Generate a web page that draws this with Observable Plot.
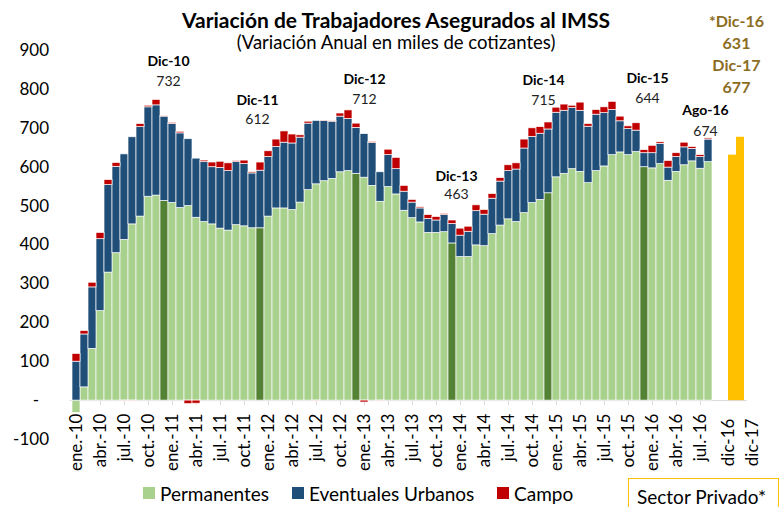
<!DOCTYPE html>
<html><head><meta charset="utf-8">
<script src="https://cdn.jsdelivr.net/npm/d3@7"></script>
<script src="https://cdn.jsdelivr.net/npm/@observablehq/plot@0.6"></script>
<style>body{margin:0;background:#fff} svg{font-family:Lato, "Open Sans", sans-serif}</style>
</head><body><div id="chart"></div>
<script>
// ---- categories ----
const monthAbbr = ["ene.","feb.","mar.","abr.","may.","jun.","jul.","ago.","sep.","oct.","nov.","dic."];
const yearSuffix = ["10","11","12","13","14","15","16"];
const months = yearSuffix.flatMap(y => monthAbbr.map(m => `${m}-${y}`)).slice(0, 80); // ene.-10 .. ago.-16
const gapCats = ["gap-1", "gap-2"];
const projCats = ["dic-16", "dic-17"];
const tickLabels = ["ene.-10","abr.-10","jul.-10","oct.-10","ene.-11","abr.-11","jul.-11","oct.-11",
  "ene.-12","abr.-12","jul.-12","oct.-12","ene.-13","abr.-13","jul.-13","oct.-13",
  "ene.-14","abr.-14","jul.-14","oct.-14","ene.-15","abr.-15","jul.-15","oct.-15",
  "ene.-16","abr.-16","jul.-16"];
const yTicks = [-100,0,100,200,300,400,500,600,700,800,900];

// ---- series (miles de cotizantes) ----
const seriesNames = ["Permanentes", "Eventuales Urbanos", "Campo"];
const permanentes = [-32,34,133,230,329,379,413,453,473,524,527,513,
  508,495,500,470,459,453,442,437,451,448,443,443,
  473,494,494,490,509,541,556,564,570,587,590,583,
  573,552,511,549,530,488,469,458,431,431,433,404,
  369,369,399,397,428,450,466,459,482,508,516,533,
  574,583,595,588,559,590,602,631,638,631,639,600,
  597,608,565,588,605,615,596,613];
const eventuales = [100,136,158,185,225,222,220,224,230,230,232,217,
  203,192,172,152,154,147,156,153,162,160,141,148,
  153,158,169,171,167,171,163,155,147,143,134,118,
  112,110,76,82,65,49,40,36,36,32,44,50,
  55,65,88,81,91,113,124,135,166,170,170,164,
  166,162,157,157,145,145,137,116,80,67,55,36,
  39,52,34,38,46,32,30,58];
const campo = [20,9,12,16,13,10,-2,-2,8,4,14,2,
  3,4,-9,-8,4,12,16,20,3,9,3,21,
  15,19,29,23,6,5,-2,1,2,8,22,11,
  -5,3,-2,14,29,15,7,3,10,9,3,9,
  18,13,15,12,12,9,15,16,23,22,17,18,
  13,16,6,21,7,12,15,21,12,7,19,8,
  19,4,17,10,12,5,5,3];
const proyeccion = [631, 677];
const projLabels = ["*Dic-16", "Dic-17"];

// ---- annotations ----
const annoCats = ["dic.-10","dic.-11","dic.-12","dic.-13","dic.-14","dic.-15","ago.-16"];
const annoNames = ["Dic-10","Dic-11","Dic-12","Dic-13","Dic-14","Dic-15","Ago-16"];
const annoValues = [732, 612, 712, 463, 715, 644, 674];

// ---- layout (pixels) ----
const annoDx = [4, -3, 8, 4, -5, 3, -3];
const annoNameDy = [-54, -62, -44, -44, -42, -72, -28];
const annoValDy = [-34, -43, -24, -26, -22, -52, -7];
const projDy = [-115, -93, -71, -49];
const projTickDx = [-4, 12];

const C = {light:"#A9D18E", dark:"#548235", blue:"#1F4E79", red:"#C00000", yellow:"#FFC000", gold:"#8C6D1F"};
const seriesArrays = [permanentes, eventuales, campo];
const rows = seriesNames.flatMap((s, k) => months.map((m, i) => ({month: m, series: s, value: seriesArrays[k][i]})));
const fillOf = d => d.series === "Permanentes" ? (d.month.startsWith("dic.") ? C.dark : C.light)
  : d.series === "Campo" ? C.red : C.blue;
const projRows = projCats.map((c, i) => ({cat: c, value: proyeccion[i]}));
const projText = [projLabels[0], String(proyeccion[0]), projLabels[1], String(proyeccion[1])];

const W = 781, H = 507;
const marks = [
  Plot.ruleY([0], {stroke: "#d9d9d9", strokeWidth: 1}),
  Plot.ruleX(tickLabels, {x: d => d, y1: 0, y2: -100, insetBottom: 34, stroke: "#d9d9d9"}),
  Plot.barY(rows, {x: "month", y: "value", z: "series", fill: fillOf, stroke: "white", strokeWidth: 0.75, strokeOpacity: 0.9}),
  Plot.barY(projRows, {x: "cat", y: "value", fill: C.yellow}),
  Plot.axisY({ticks: yTicks, tickSize: 0, tickPadding: 21, fontSize: 17, color: "#000", label: null,
    tickFormat: d => d === 0 ? "-\u2007" : String(d)}),
  Plot.text(tickLabels, {x: d => d, y: 0, text: d => d, rotate: -90, textAnchor: "end", dy: 13, fontSize: 17, fill: "#000"}),
  ...projCats.map((c, j) => Plot.text([c], {x: d => d, y: 0, text: d => d, rotate: -90, textAnchor: "end", dx: projTickDx[j], dy: 18, fontSize: 17, fill: "#000"})),
  ...annoCats.flatMap((c, i) => [
    Plot.text([i], {x: () => c, y: () => annoValues[i], text: () => annoNames[i], dx: annoDx[i], dy: annoNameDy[i], fontSize: 14, fontWeight: "bold", fill: "#000"}),
    Plot.text([i], {x: () => c, y: () => annoValues[i], text: () => String(annoValues[i]), dx: annoDx[i], dy: annoValDy[i], fontSize: 14, fill: "#222"})
  ]),
  ...projText.map((t, j) => Plot.text([j], {x: () => projCats[0], y: () => proyeccion[1], text: () => t, dx: 4, dy: projDy[j], fontSize: 16, fontWeight: "bold", fill: C.gold}))
];

const svg = Plot.plot({
  width: W, height: H,
  marginTop: 50, marginBottom: 68, marginLeft: 69.5, marginRight: 34.2,
  x: {type: "band", domain: [...months, ...gapCats, ...projCats], padding: 0, axis: null},
  y: {domain: [-100, 900], label: null},
  color: {type: "identity"},
  style: {fontFamily: "Lato, 'Open Sans', sans-serif", background: "#fff"},
  marks
});

const s = d3.select(svg);
s.append("text").attr("x", 396).attr("y", 19).attr("text-anchor", "middle").attr("dominant-baseline", "central")
  .attr("font-size", 21).attr("font-weight", "bold").attr("fill", "#000")
  .text("Variación de Trabajadores Asegurados al IMSS");
s.append("text").attr("x", 396).attr("y", 42).attr("text-anchor", "middle").attr("dominant-baseline", "central")
  .attr("font-size", 18.5).attr("fill", "#000")
  .text("(Variación Anual en miles de cotizantes)");

const legendItems = [
  {name: seriesNames[0], color: C.light, x: 143},
  {name: seriesNames[1], color: C.blue, x: 292},
  {name: seriesNames[2], color: C.red, x: 497}
];
const lg = s.append("g").attr("text-anchor", "start");
legendItems.forEach(it => {
  lg.append("rect").attr("x", it.x).attr("y", 487).attr("width", 12).attr("height", 12).attr("fill", it.color);
  lg.append("text").attr("x", it.x + 17).attr("y", 493).attr("dominant-baseline", "central").attr("text-anchor", "start")
    .attr("font-size", 19).attr("fill", "#000").text(it.name);
});
s.append("rect").attr("x", 628.5).attr("y", 478.5).attr("width", 150).attr("height", 29)
  .attr("fill", "none").attr("stroke", C.yellow).attr("stroke-width", 1);
s.append("text").attr("x", 637).attr("y", 496).attr("dominant-baseline", "central").attr("text-anchor", "start")
  .attr("font-size", 19).attr("fill", "#000").text("Sector Privado*");

document.getElementById("chart").appendChild(svg);
</script>
</body></html>
